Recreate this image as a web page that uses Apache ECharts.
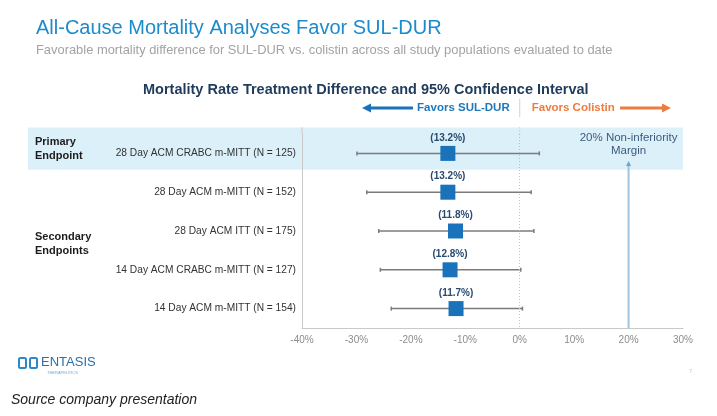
<!DOCTYPE html>
<html>
<head>
<meta charset="utf-8">
<script src="https://cdn.jsdelivr.net/npm/echarts@6/dist/echarts.min.js"></script>
<style>
  html, body { margin: 0; padding: 0; background: #fff; }
  #chart { width: 717px; height: 416px; }
</style>
</head>
<body>
<div id="chart"></div>
<script>
// rows of the forest plot, top to bottom
const rowLabels = [
  "28 Day ACM CRABC m-MITT (N = 125)",
  "28 Day ACM m-MITT (N = 152)",
  "28 Day ACM ITT (N = 175)",
  "14 Day ACM CRABC m-MITT (N = 127)",
  "14 Day ACM m-MITT (N = 154)",
];
const pointEst = [-13.2, -13.2, -11.8, -12.8, -11.7];
const ciLow = [-29.9, -28.1, -25.9, -25.6, -23.6];
const ciHigh = [3.6, 2.1, 2.6, 0.2, 0.5];
const estLabels = ["(13.2%)", "(13.2%)", "(11.8%)", "(12.8%)", "(11.7%)"];
const xMin = -40;
const xMax = 30;
const xStep = 10;
const marginValue = 20;

const FONT = "Liberation Sans";
const chart = echarts.init(document.getElementById("chart"));

const option = {
  backgroundColor: "#fff",
  animation: false,
  textStyle: { fontFamily: FONT },
  title: [
    {
      text: "All-Cause Mortality Analyses Favor SUL-DUR",
      left: 31,
      top: 13,
      textStyle: { fontFamily: FONT, fontSize: 20, fontWeight: "normal", color: "#1b8bcc" },
    },
    {
      text: "Favorable mortality difference for SUL-DUR vs. colistin across all study populations evaluated to date",
      left: 31,
      top: 39,
      textStyle: { fontFamily: FONT, fontSize: 12.9, fontWeight: "normal", color: "#a3a3a3" },
    },
    {
      text: "Mortality Rate Treatment Difference and 95% Confidence Interval",
      left: 138,
      top: 77,
      textStyle: { fontFamily: FONT, fontSize: 14.5, fontWeight: "bold", color: "#1f3b5c" },
    },
  ],
  grid: { left: 302, right: 34, top: 134, bottom: 88 },
  xAxis: {
    type: "value",
    min: xMin,
    max: xMax,
    interval: xStep,
    axisLine: { show: true, onZero: false, lineStyle: { color: "#c9c9c9", width: 1 } },
    axisTick: { show: false },
    splitLine: { show: false },
    axisLabel: {
      formatter: "{value}%",
      color: "#8c8c8c",
      fontSize: 10,
      fontFamily: FONT,
      margin: 7,
    },
  },
  yAxis: {
    type: "category",
    data: rowLabels,
    inverse: true,
    axisLine: { show: true, onZero: false, lineStyle: { color: "#c9c9c9", width: 1 } },
    axisTick: { show: false },
    splitLine: { show: false },
    axisLabel: { color: "#333", fontSize: 10.2, fontFamily: FONT, margin: 6 },
  },
  series: [
    {
      name: "CI",
      type: "custom",
      z: 3,
      renderItem: function (params, api) {
        const lo = api.coord([api.value(0), api.value(2)]);
        const hi = api.coord([api.value(1), api.value(2)]);
        const cap = 2;
        const style = { stroke: "#7b7b7b", lineWidth: 1.5 };
        return {
          type: "group",
          children: [
            { type: "line", shape: { x1: lo[0], y1: lo[1], x2: hi[0], y2: hi[1] }, style: style },
            { type: "line", shape: { x1: lo[0], y1: lo[1] - cap, x2: lo[0], y2: lo[1] + cap }, style: style },
            { type: "line", shape: { x1: hi[0], y1: hi[1] - cap, x2: hi[0], y2: hi[1] + cap }, style: style },
          ],
        };
      },
      encode: { x: [0, 1], y: 2 },
      data: rowLabels.map((r, i) => [ciLow[i], ciHigh[i], i]),
    },
    {
      name: "Estimate",
      type: "scatter",
      z: 4,
      symbol: "rect",
      symbolSize: 15,
      itemStyle: { color: "#1a72ba", opacity: 1 },
      label: {
        show: true,
        position: "top",
        distance: 3,
        formatter: (p) => estLabels[p.dataIndex],
        color: "#2a4a70",
        fontSize: 10,
        fontWeight: "bold",
        fontFamily: FONT,
      },
      data: rowLabels.map((r, i) => [pointEst[i], i]),
      markLine: {
        silent: true,
        symbol: "none",
        label: { show: false },
        lineStyle: { color: "#a9c4dc", type: [1, 2], width: 1 },
        data: [{ xAxis: 0 }],
      },
    },
  ],
};

chart.setOption(option);

// decorations positioned from the chart's own scales
const x0 = chart.convertToPixel({ gridIndex: 0 }, [0, 0])[0];
const xM = chart.convertToPixel({ gridIndex: 0 }, [marginValue, 0])[0];
const xRight = chart.convertToPixel({ gridIndex: 0 }, [xMax, 0])[0];
const xLeft = chart.convertToPixel({ gridIndex: 0 }, [xMin, 0])[0];
const yRow0 = chart.convertToPixel({ gridIndex: 0 }, [0, 0])[1];
const yRow1 = chart.convertToPixel({ gridIndex: 0 }, [0, 1])[1];
const half = (yRow1 - yRow0) / 2;
const yBase = chart.convertToPixel({ gridIndex: 0 }, [0, rowLabels.length - 1])[1] + half;
const bandTop = yRow0 - 26;
const bandBottom = yRow0 + (yRow1 - yRow0) * 0.42;
const headY = 108;

chart.setOption({
  graphic: [
    // primary endpoint band
    {
      type: "rect",
      z: -10,
      shape: { x: 28, y: bandTop, width: xRight - 28, height: bandBottom - bandTop },
      style: { fill: "#dcf0fa" },
    },
    // extend y axis line to band top
    {
      type: "line",
      shape: { x1: xLeft, y1: bandTop, x2: xLeft, y2: yRow0 - half },
      style: { stroke: "#c9c9c9", lineWidth: 1 },
    },
    // 0% divider in header and its extension to the band top
    {
      type: "line",
      shape: { x1: x0, y1: 99, x2: x0, y2: 117 },
      style: { stroke: "#c8d6e2", lineWidth: 1 },
    },
    {
      type: "line",
      shape: { x1: x0, y1: bandTop, x2: x0, y2: yRow0 - half },
      style: { stroke: "#a9c4dc", lineWidth: 1, lineDash: [1, 2] },
    },
    // favors SUL-DUR
    {
      type: "line",
      shape: { x1: 368, y1: headY, x2: 413, y2: headY },
      style: { stroke: "#1a72ba", lineWidth: 3 },
    },
    {
      type: "polygon",
      shape: { points: [[362, headY], [371, headY - 4.5], [371, headY + 4.5]] },
      style: { fill: "#1a72ba" },
    },
    {
      type: "text",
      x: x0 - 10,
      y: headY,
      style: {
        text: "Favors SUL-DUR",
        fill: "#1f78b8",
        font: "bold 11.5px " + FONT,
        textAlign: "right",
        textVerticalAlign: "middle",
      },
    },
    // favors colistin
    {
      type: "text",
      x: x0 + 12,
      y: headY,
      style: {
        text: "Favors Colistin",
        fill: "#ee7b3f",
        font: "bold 11.5px " + FONT,
        textAlign: "left",
        textVerticalAlign: "middle",
      },
    },
    {
      type: "line",
      shape: { x1: 620, y1: headY, x2: 664, y2: headY },
      style: { stroke: "#ee7b3f", lineWidth: 3 },
    },
    {
      type: "polygon",
      shape: { points: [[671, headY], [662, headY - 4.5], [662, headY + 4.5]] },
      style: { fill: "#ee7b3f" },
    },
    // non-inferiority margin
    {
      type: "line",
      shape: { x1: xM, y1: yBase, x2: xM, y2: 165 },
      style: { stroke: "#9fc4e0", lineWidth: 2 },
    },
    {
      type: "polygon",
      shape: { points: [[xM, 161], [xM - 2.5, 166], [xM + 2.5, 166]] },
      style: { fill: "#6fa3cc" },
    },
    {
      type: "text",
      x: xM,
      y: 144,
      style: {
        text: "20% Non-inferiority\nMargin",
        fill: "#3d5c7c",
        font: "11.5px " + FONT,
        textAlign: "center",
        textVerticalAlign: "middle",
        lineHeight: 13,
      },
    },
    // group labels
    {
      type: "text",
      x: 35,
      y: 135,
      style: { text: "Primary\nEndpoint", fill: "#1c1c1c", font: "bold 11px " + FONT, lineHeight: 14 },
    },
    {
      type: "text",
      x: 35,
      y: 230,
      style: { text: "Secondary\nEndpoints", fill: "#1c1c1c", font: "bold 11px " + FONT, lineHeight: 14 },
    },
    // logo
    {
      type: "rect",
      shape: { x: 19, y: 358, width: 7, height: 10, r: 1.5 },
      style: { fill: "none", stroke: "#2a88c9", lineWidth: 2 },
    },
    {
      type: "rect",
      shape: { x: 30, y: 358, width: 7, height: 10, r: 1.5 },
      style: { fill: "none", stroke: "#2a88c9", lineWidth: 2 },
    },
    {
      type: "text",
      x: 41,
      y: 356,
      style: { text: "ENTASIS", fill: "#2a6fa8", font: "13px " + FONT },
    },
    {
      type: "text",
      x: 47,
      y: 371,
      style: { text: "THERAPEUTICS", fill: "#7aa6cc", font: "4px " + FONT },
    },
    // page number
    {
      type: "text",
      x: 689,
      y: 368,
      style: { text: "7", fill: "#c8c8c8", font: "6px " + FONT },
    },
    // source note
    {
      type: "text",
      x: 11,
      y: 393,
      style: { text: "Source company presentation", fill: "#222", font: "italic 14px " + FONT },
    },
  ],
});
</script>
</body>
</html>
